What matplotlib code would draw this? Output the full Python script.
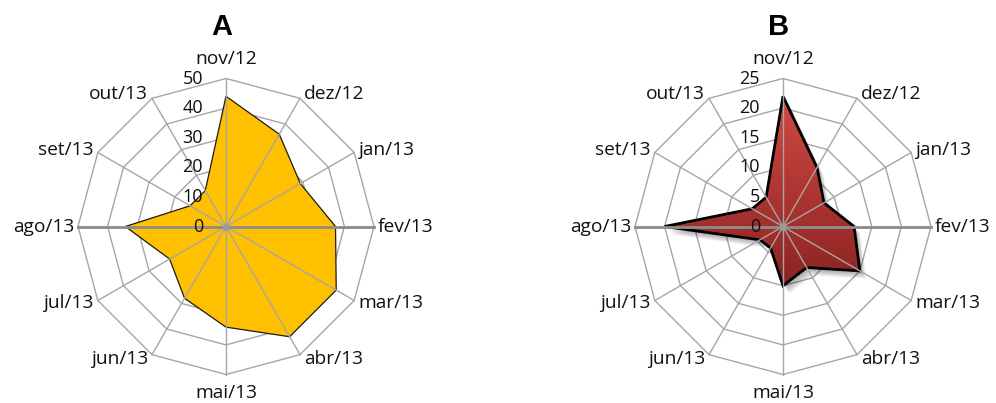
import numpy as np
import matplotlib
matplotlib.use('Agg')
import matplotlib.pyplot as plt
from matplotlib.patches import Polygon
from matplotlib.colors import LinearSegmentedColormap
import matplotlib.transforms as mtransforms

months = ['nov/12', 'dez/12', 'jan/13', 'fev/13', 'mar/13', 'abr/13',
          'mai/13', 'jun/13', 'jul/13', 'ago/13', 'set/13', 'out/13']
values_a = [44, 36, 29, 37, 43, 43, 34, 28, 22, 34, 14, 14]
values_b = [22, 11.5, 8, 12, 15, 8, 10, 4.2, 4.5, 20, 6, 5.7]
ticks_a = [0, 10, 20, 30, 40, 50]
ticks_b = [0, 5, 10, 15, 20, 25]

W, H = 996, 403
FONT = 'Open Sans'
GRID = '#A6A6A6'
RPX = 148.0  # outer radius in pixels

fig = plt.figure(figsize=(W / 100, H / 100), dpi=100)


def polar_xy(r, n):
    th = 2 * np.pi * np.arange(n) / n
    r = np.asarray(r, float)
    return r * np.sin(th), r * np.cos(th)


def radar(cx, cy, values, ticks, title, kind):
    S = 175
    ax = fig.add_axes([(cx - S) / W, 1 - (cy + S) / H, 2 * S / W, 2 * S / H])
    ax.axis('off')
    n = len(values)
    rmax = ticks[-1]
    th = 2 * np.pi * np.arange(n) / n

    # rings
    for t in ticks[1:]:
        x, y = polar_xy([t] * n, n)
        ax.add_patch(Polygon(np.column_stack([x, y]), closed=True, fill=False,
                             edgecolor=GRID, lw=1.0, zorder=1))

    # series
    x, y = polar_xy(values, n)
    pts = np.column_stack([x, y])
    if kind == 'a':
        ax.add_patch(Polygon(pts, closed=True, facecolor='#FFC000',
                             edgecolor='#1a1a1a', lw=0.9, zorder=2))
    else:
        # soft shadow
        for i in range(7):
            d = 2 + i
            tr = mtransforms.offset_copy(ax.transData, fig=fig, x=d * 0.8, y=-d,
                                         units='dots')
            ax.add_patch(Polygon(pts, closed=True, facecolor='black',
                                 edgecolor='none', alpha=0.05, zorder=1.5,
                                 transform=tr))
        poly = Polygon(pts, closed=True, facecolor='none', edgecolor='none',
                       zorder=2)
        ax.add_patch(poly)
        cmap = LinearSegmentedColormap.from_list('g', ['#D24844', '#8A2421'])
        grad = np.linspace(0, 1, 256).reshape(-1, 1)
        im = ax.imshow(grad, cmap=cmap, aspect='auto', origin='upper',
                       extent=(x.min(), x.max(), y.min(), y.max()), zorder=2)
        im.set_clip_path(poly)
        ax.add_patch(Polygon(pts, closed=True, facecolor='none',
                             edgecolor='black', lw=2.0, zorder=2.5,
                             joinstyle='miter'))

    # spokes
    for i in range(n):
        xe, ye = rmax * np.sin(th[i]), rmax * np.cos(th[i])
        ax.plot([0, xe], [0, ye], color=GRID, lw=1.0, zorder=3)
    ax.plot([-rmax, rmax], [0, 0], color='#8C8C8C', lw=2.0, zorder=3.1)
    ax.plot([0], [0], marker='o', ms=4, color='#9A9A9A', zorder=3.2)

    # value tick labels
    for t in ticks:
        ax.annotate(str(t), xy=(0, t), xytext=(-23, 0), textcoords='offset pixels',
                    ha='right', va='center', fontsize=13, family=FONT,
                    color='#111111', zorder=4)

    # category labels
    for i, lab in enumerate(months):
        s, c = np.sin(th[i]), np.cos(th[i])
        xe, ye = rmax * s, rmax * c
        if abs(s) < 0.1:
            ha = 'center'
            dx = 0
            dy = 20 if c > 0 else -18
        else:
            ha = 'left' if s > 0 else 'right'
            dx = 4 if s > 0 else -4
            dy = 5 * c
        ax.annotate(lab, xy=(xe, ye), xytext=(dx, dy), textcoords='offset pixels',
                    ha=ha, va='center', fontsize=13.8, family=FONT,
                    color='#111111', zorder=4)

    lim = rmax * S / RPX
    ax.set_xlim(-lim, lim)
    ax.set_ylim(-lim, lim)

    fig.text(cx / W - 0.004, 1 - 27 / H, title, ha='center', va='center',
             fontsize=21, fontweight='bold', family='Liberation Sans')


radar(226, 226.5, values_a, ticks_a, 'A', 'a')
radar(783, 226.5, values_b, ticks_b, 'B', 'b')

fig.savefig('out.png', dpi=100)
